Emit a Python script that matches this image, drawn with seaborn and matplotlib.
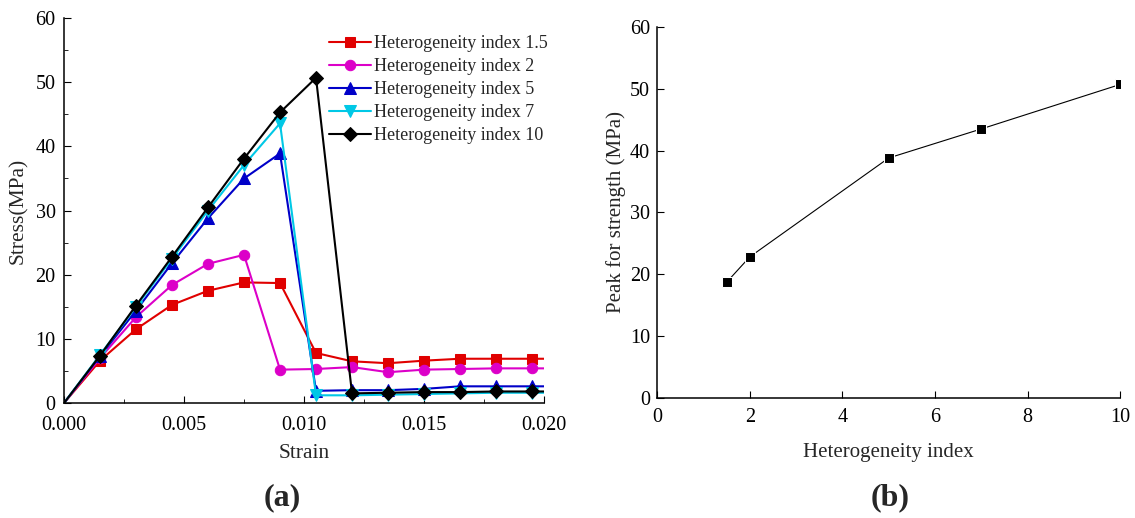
import numpy as np
import pandas as pd
import matplotlib
matplotlib.use("Agg")
import matplotlib.pyplot as plt
import seaborn as sns
from matplotlib.ticker import MultipleLocator, FormatStrFormatter

# 應變點 (每 0.0015 一點, 最後補到 0.020)
strain = [0.0, 0.0015, 0.003, 0.0045, 0.006, 0.0075, 0.009, 0.0105,
          0.012, 0.0135, 0.015, 0.0165, 0.018, 0.0195, 0.020]

stress_h15 = [0, 6.6, 11.5, 15.3, 17.5, 18.8, 18.7, 7.8, 6.5, 6.2, 6.6, 6.9, 6.9, 6.9, 6.9]
stress_h2 = [0, 7.0, 13.4, 18.4, 21.7, 23.1, 5.2, 5.3, 5.6, 4.8, 5.2, 5.3, 5.4, 5.4, 5.4]
stress_h5 = [0, 7.3, 14.4, 21.8, 28.8, 35.0, 38.9, 1.9, 2.0, 2.0, 2.2, 2.6, 2.6, 2.6, 2.6]
stress_h7 = [0, 7.5, 15.0, 22.5, 30.0, 37.1, 43.6, 1.2, 1.2, 1.3, 1.4, 1.5, 1.6, 1.6, 1.6]
stress_h10 = [0, 7.4, 15.2, 22.8, 30.5, 38.1, 45.3, 50.7, 1.5, 1.6, 1.7, 1.7, 1.8, 1.8, 1.8]

labels = ["Heterogeneity index 1.5", "Heterogeneity index 2", "Heterogeneity index 5",
          "Heterogeneity index 7", "Heterogeneity index 10"]
colors = ["#e00000", "#dc00c8", "#0000c8", "#00c8e6", "#000000"]
markers = ["s", "o", "^", "v", "D"]
msizes = [7.5, 7.5, 8, 8, 7.5]

# 右圖: 峰值強度
het_index = [1.5, 2, 5, 7, 10]
peak_strength = [18.7, 22.8, 38.8, 43.5, 50.7]

sns.set_style("ticks")
plt.rcParams['font.family'] = ['Liberation Serif', 'DejaVu Serif']
plt.rcParams['font.size'] = 14
plt.rcParams['axes.linewidth'] = 1.1
plt.rcParams['xtick.major.size'] = 5
plt.rcParams['ytick.major.size'] = 5
plt.rcParams['xtick.minor.size'] = 3
plt.rcParams['ytick.minor.size'] = 3
plt.rcParams['xtick.color'] = 'black'
plt.rcParams['ytick.color'] = 'black'
plt.rcParams['axes.edgecolor'] = 'black'

fig = plt.figure(figsize=(11.35, 5.18), dpi=100)
ax1 = fig.add_axes([0.0564, 0.222, 0.4229, 0.743])
ax2 = fig.add_axes([0.579, 0.232, 0.408, 0.716])

all_series = [stress_h15, stress_h2, stress_h5, stress_h7, stress_h10]
for vals, lab, c, m, ms in zip(all_series, labels, colors, markers, msizes):
    sns.lineplot(x=strain, y=vals, ax=ax1, color=c, marker=m, markersize=ms,
                 markeredgecolor=c, linewidth=1.5, label=lab,
                 markevery=slice(1, len(strain) - 1))

ax1.set_xlim(0, 0.020)
ax1.set_ylim(0, 60)
ax1.xaxis.set_major_locator(MultipleLocator(0.005))
ax1.xaxis.set_minor_locator(MultipleLocator(0.0025))
ax1.xaxis.set_major_formatter(FormatStrFormatter('%.3f'))
ax1.yaxis.set_major_locator(MultipleLocator(10))
ax1.yaxis.set_minor_locator(MultipleLocator(5))
ax1.set_xlabel("Strain", fontsize=15.5, va='center')
ax1.set_ylabel("Stress(MPa)", fontsize=15.5, va='center')
ax1.xaxis.set_label_coords(0.5, -0.13)
ax1.yaxis.set_label_coords(-0.094, 0.5)
ax1.legend(loc='upper left', bbox_to_anchor=(329 / 1135, 1 - 35 / 518),
           bbox_transform=fig.transFigure, frameon=False, fontsize=13,
           borderpad=0, handlelength=2.3, handletextpad=0.2, labelspacing=0.33,
           borderaxespad=0)
ax1.tick_params(which='both', direction='in', labelsize=14.5)
ax1.tick_params(axis='x', which='both', pad=9)
ax1.tick_params(axis='y', which='both', pad=6)

sns.lineplot(x=het_index, y=peak_strength, ax=ax2, color='black', marker='s',
             markersize=6.5, linewidth=0.8)
ax2.set_xlim(0, 10)
ax2.set_ylim(0, 60)
ax2.xaxis.set_major_locator(MultipleLocator(2))
ax2.yaxis.set_major_locator(MultipleLocator(10))
ax2.set_xlabel("Heterogeneity index", fontsize=15, va='center')
ax2.set_ylabel("Peak for strength (MPa)", fontsize=15, va='center')
ax2.xaxis.set_label_coords(0.5, -0.148)
ax2.yaxis.set_label_coords(-0.0886, 0.5)
ax2.tick_params(direction='in', labelsize=14.5)
ax2.tick_params(axis='x', pad=7)
ax2.tick_params(axis='y', pad=5)

for ax in (ax1, ax2):
    sns.despine(ax=ax)

fig.text(282 / 1135, 1 - 498 / 518, "(a)", ha='center', va='center',
         fontsize=23, fontweight='bold')
fig.text(890 / 1135, 1 - 498 / 518, "(b)", ha='center', va='center',
         fontsize=23, fontweight='bold')

fig.savefig("out.png", dpi=100)
